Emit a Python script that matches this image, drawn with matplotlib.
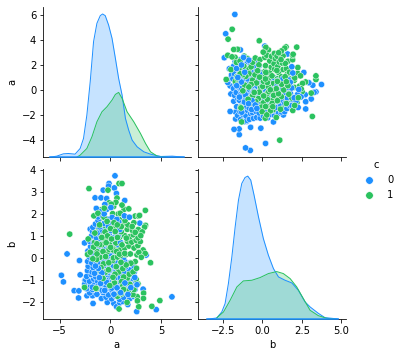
import numpy as np
import matplotlib
matplotlib.use('Agg')
import matplotlib.pyplot as plt
from matplotlib.lines import Line2D

# (a, b)
points_0 = [
    (-4.82, -0.77), (-4.62, -1.07), (-4.26, 0.2), (-3.56, -1.47), (-3.1, -1.48), (-3.13, -1.8), (-3.04, -0.1),
    (-2.97, -0.75), (-2.5, -1.0), (-2.3, -1.7), (-1.75, -1.7), (-1.7, -2.05), (-2.54, 0.7), (0.46, 3.75),
    (-0.13, 3.4), (-0.17, 3.28), (0.4, 3.2), (0.6, 2.95), (-0.7, 3.1), (-1.5, 2.75), (-0.92, 2.75), (-0.36, 2.72),
    (1.42, 2.63), (6.07, -1.75), (4.52, -2.33), (2.6, -2.42), (3.23, -1.4), (2.9, 1.6), (2.28, -0.38), (3.53, 0.15),
    (-0.3, -2.0), (0.35, -2.05), (0.62, -2.2), (0.94, -2.02), (1.23, -1.96), (1.72, -2.1), (-0.88, -1.82),
    (-0.42, -1.76), (0.13, -1.84), (0.52, -1.71), (0.91, -1.87), (1.33, -1.78), (1.94, -1.82), (2.31, -1.73),
    (-2.03, -1.57), (-1.32, -1.63), (-0.71, -1.55), (-0.18, -1.66), (0.24, -1.52), (0.73, -1.61), (1.14, -1.58),
    (1.63, -1.49), (2.22, -1.62), (-2.34, -1.38), (-1.74, -1.42), (-1.23, -1.33), (-0.81, -1.45), (-0.32, -1.36),
    (0.11, -1.41), (0.53, -1.31), (0.84, -1.44), (1.24, -1.37), (1.82, -1.33), (2.43, -1.42), (-2.52, -1.17),
    (-1.93, -1.24), (-1.52, -1.13), (-1.14, -1.22), (-0.73, -1.16), (-0.41, -1.27), (0.02, -1.11), (0.44, -1.21),
    (0.83, -1.13), (1.12, -1.24), (1.53, -1.16), (2.04, -1.21), (2.53, -1.08), (-2.41, -0.98), (-2.06, -1.04),
    (-1.63, -0.94), (-1.28, -1.02), (-0.92, -0.93), (-0.54, -1.06), (-0.16, -0.96), (0.27, -1.03), (0.61, -0.92),
    (0.95, -1.05), (1.34, -0.95), (1.76, -1.02), (2.27, -0.93), (-2.33, -0.82), (-1.88, -0.74), (-1.44, -0.84),
    (-1.07, -0.76), (-0.68, -0.87), (-0.29, -0.73), (0.08, -0.83), (0.49, -0.77), (0.81, -0.86), (1.22, -0.72),
    (1.58, -0.81), (2.11, -0.74), (-2.25, -0.56), (-1.79, -0.63), (-1.36, -0.52), (-0.96, -0.61), (-0.61, -0.53),
    (-0.23, -0.64), (0.15, -0.55), (0.54, -0.62), (0.92, -0.51), (1.41, -0.58), (1.87, -0.53), (2.35, -0.63),
    (-2.18, -0.36), (-1.69, -0.42), (-1.27, -0.33), (-0.85, -0.44), (-0.47, -0.31), (-0.06, -0.41), (0.33, -0.34),
    (0.72, -0.43), (1.13, -0.32), (1.51, -0.39), (-2.23, -0.14), (-1.82, -0.21), (-1.41, -0.12), (-1.02, -0.24),
    (-0.63, -0.16), (-0.26, -0.23), (0.17, -0.11), (0.57, -0.19), (0.99, -0.26), (1.42, -0.13), (1.96, -0.2),
    (-2.06, 0.06), (-1.56, 0.13), (-1.17, 0.03), (-0.77, 0.11), (-0.34, 0.02), (0.06, 0.14), (0.46, 0.05),
    (0.87, 0.12), (1.31, 0.03), (-2.21, 0.33), (-1.72, 0.24), (-1.25, 0.36), (-0.89, 0.27), (-0.45, 0.34),
    (-0.04, 0.23), (0.38, 0.32), (0.77, 0.25), (1.16, 0.35), (-1.94, 0.53), (-1.48, 0.46), (-1.06, 0.57),
    (-0.58, 0.44), (-0.17, 0.55), (0.27, 0.47), (0.69, 0.58), (1.21, 0.49), (-2.02, 0.77), (-1.62, 0.71),
    (-1.13, 0.79), (-0.71, 0.66), (-0.29, 0.76), (0.14, 0.68), (0.53, 0.81), (1.02, 0.72), (-1.84, 1.02),
    (-1.38, 0.94), (-0.94, 1.03), (-0.52, 0.91), (-0.11, 1.04), (0.34, 0.93), (0.78, 1.01), (-1.98, 1.33),
    (-1.74, 1.21), (-1.27, 1.16), (-0.81, 1.28), (-0.39, 1.14), (0.07, 1.26), (0.52, 1.17), (0.93, 1.31),
    (-1.72, 1.41), (-1.46, 1.56), (-1.05, 1.43), (-0.62, 1.58), (-0.19, 1.46), (0.24, 1.61), (0.83, 1.65),
    (-1.21, 1.72), (-1.23, 1.88), (-0.75, 1.92), (-0.28, 1.78), (0.18, 1.86), (0.64, 1.77), (1.38, 1.93),
    (1.88, 1.87), (-1.38, 2.27), (-0.86, 2.14), (-0.34, 2.23), (0.06, 2.31), (-0.54, 2.45), (-0.61, 2.02),
    (-1.76, -1.31), (-0.36, -1.09), (-0.95, -1.14), (0.15, -1.35), (-1.55, -0.68), (-0.83, -0.66), (0.42, -0.9),
    (-0.11, -0.55), (-1.18, -0.46), (0.66, -1.34), (1.44, -1.12), (1.02, -1.56), (0.36, -1.63), (-1.08, -0.88),
    (1.74, -1.64), (2.02, -1.33), (2.41, -0.87), (2.63, -1.2), (-0.55, -1.46), (-1.46, -0.35),
]
points_1 = [
    (-2.1, 3.17), (-4.0, 1.1), (-0.23, 3.1), (0.86, 3.4), (1.15, 3.4), (0.66, 2.74), (3.96, -0.2), (3.47, 1.5),
    (3.37, 1.42), (3.23, 0.38), (3.43, 0.22), (4.88, -1.92), (4.09, -2.18), (0.86, -2.3), (2.64, -1.74),
    (2.8, -2.2), (1.65, -2.0), (-2.24, 0.18), (-1.36, -1.38), (-2.54, -1.32), (2.67, -1.93), (3.28, -1.58),
    (3.26, -1.82), (1.07, -1.62), (1.36, -1.43), (2.23, -1.65), (2.73, -1.16), (2.54, -0.95), (1.66, -0.9),
    (1.32, -0.85), (0.39, -1.06), (0.82, -0.62), (1.23, -0.47), (1.87, -0.72), (2.24, -0.62), (2.58, -0.45),
    (2.45, -0.15), (2.03, -0.22), (1.56, -0.3), (0.22, -0.1), (-0.67, -0.25), (-1.12, -0.55), (-1.3, 0.3),
    (-1.02, 0.05), (0.31, 0.02), (0.72, 0.06), (1.04, 0.14), (1.53, 0.17), (1.97, 0.2), (2.63, 0.16),
    (2.81, 0.27), (3.05, 0.05), (0.34, 0.42), (0.93, 0.38), (1.41, 0.46), (1.84, 0.56), (2.34, 0.47),
    (2.72, 0.58), (-1.53, 0.74), (-0.82, 0.62), (-0.08, 0.62), (0.55, 0.7), (1.15, 0.61), (1.68, 0.78),
    (2.12, 0.74), (2.54, 0.82), (2.95, 0.76), (-2.18, 0.88), (-1.65, 0.51), (-0.52, 0.86), (0.22, 0.92),
    (0.91, 0.96), (1.42, 1.03), (1.91, 0.98), (2.26, 1.07), (2.73, 0.93), (2.85, 1.18), (-0.92, 1.22),
    (-0.13, 1.31), (0.55, 1.28), (1.07, 1.21), (1.66, 1.32), (2.17, 1.27), (2.75, 1.31), (3.14, 1.2),
    (-1.25, 1.43), (-0.47, 1.47), (0.42, 1.42), (1.27, 1.58), (1.74, 1.52), (2.32, 1.62), (-1.0, 1.82),
    (-0.04, 1.75), (0.89, 1.76), (1.45, 1.72), (2.44, 1.92), (2.78, 1.92), (2.88, 1.95), (-0.98, 2.2),
    (0.23, 2.03), (0.79, 2.02), (1.36, 2.23), (1.82, 2.25), (3.45, 2.18), (0.33, 2.36), (0.55, 2.55),
    (1.15, 2.42), (0.98, 2.05), (-0.12, 2.52), (0.11, 2.46), (2.15, 1.45), (3.0, 1.03), (2.45, 1.18),
    (1.58, 0.92), (-0.25, 0.32), (0.58, -0.38), (1.12, -1.05), (1.93, -1.18), (2.33, -1.42), (-1.35, -0.05),
    (-0.44, -0.62), (-0.15, -0.2), (1.75, -1.48), (0.7, -1.72), (1.24, -1.25),
    (-1.62, 1.93), (-0.62, 1.87), (-1.06, 1.52), (-0.52, 1.2), (0.02, 1.35), (0.48, 1.22), (-1.05, 0.62),
    (-1.32, 0.66), (-0.12, 0.41), (-0.41, 0.71), (0.29, 0.38), (-1.31, 0.2), (-0.92, -0.42), (0.62, 0.31),
    (0.9, 0.19), (-0.72, -0.91), (-1.42, -1.36), (0.41, -1.12), (0.92, -1.58), (1.31, -1.41), (-0.28, 1.02),
    (0.12, 0.88), (0.71, 0.95), (-1.52, 1.15), (-0.72, 0.31), (-0.18, -0.52), (0.46, -0.72), (1.05, -0.18),
    (1.42, 0.22), (-1.72, -0.02), (-0.46, 0.08), (0.03, 0.5), (-0.84, 0.95), (0.36, 1.62), (1.08, 1.44),
    (-0.32, 1.68), (-0.6, 2.28), (0.68, 1.52), (-1.22, 2.05), (0.26, -0.86), (-1.98, 0.28), (-0.05, -1.24),
]

a_grid_0 = [-5.94, -5.28, -4.62, -4.13, -3.47, -2.97, -2.64, -2.31, -1.98, -1.65, -1.32, -0.99, -0.76, -0.5, -0.17,
            0.17, 0.5, 0.82, 1.16, 1.49, 1.81, 2.15, 2.64, 3.3, 3.96, 4.95, 6.1, 7.26]
a_dens_0 = [0, 0.003, 0.01, 0.011, 0.009, 0.026, 0.056, 0.126, 0.226, 0.346, 0.401, 0.424, 0.429, 0.424, 0.396,
            0.356, 0.296, 0.236, 0.186, 0.116, 0.081, 0.051, 0.031, 0.016, 0.009, 0.002, 0.003, 0]
a_grid_1 = [-3.3, -2.97, -2.31, -1.81, -1.32, -0.82, -0.33, 0.17, 0.5, 0.82, 1.16, 1.65, 2.31, 2.97, 3.47, 3.96,
            4.62, 5.6]
a_dens_1 = [0, 0.006, 0.026, 0.061, 0.106, 0.136, 0.151, 0.171, 0.188, 0.194, 0.176, 0.136, 0.106, 0.071, 0.041,
            0.016, 0.003, 0]
b_grid_0 = [-3.53, -2.9, -2.58, -2.37, -2.16, -1.94, -1.73, -1.52, -1.31, -1.1, -0.93, -0.74, -0.53, -0.25, 0.06,
            0.38, 0.7, 1.02, 1.44, 1.87, 2.28, 2.71, 3.03, 3.55, 3.97, 4.82]
b_dens_0 = [0, 0.004, 0.022, 0.047, 0.107, 0.187, 0.277, 0.357, 0.407, 0.425, 0.429, 0.417, 0.372, 0.307, 0.242,
            0.192, 0.152, 0.127, 0.117, 0.109, 0.087, 0.052, 0.037, 0.018, 0.005, 0.001]
b_grid_1 = [-2.9, -2.47, -2.05, -1.62, -1.21, -0.67, -0.15, 0.38, 0.91, 1.33, 1.76, 2.18, 2.6, 3.03, 3.55, 4.08, 4.71]
b_dens_1 = [0.004, 0.022, 0.057, 0.097, 0.115, 0.117, 0.125, 0.137, 0.143, 0.137, 0.122, 0.097, 0.062, 0.027, 0.011,
            0.003, 0]

BLUE = '#1e90ff'
GREEN = '#2bc25f'

plt.rcParams['font.size'] = 10
fig, axes = plt.subplots(2, 2, sharex='col', sharey='row', figsize=(402 / 72, 357 / 72), dpi=72)
fig.subplots_adjust(left=43.3 / 402, right=345.7 / 402, top=1 - 7.3 / 357, bottom=1 - 319.3 / 357,
                    wspace=0.054, hspace=0.082)

for ax in axes.flat:
    ax.spines['top'].set_visible(False)
    ax.spines['right'].set_visible(False)

# most blue first, then the rest of the blue mixed in with the green
pts0 = np.array(points_0)
pts1 = np.array(points_1)
first = int(len(pts0) * 0.6)
merged = list(pts0[:first])
colours = [BLUE] * first
rest = pts0[first:]
step = len(pts1) / len(rest)
j = 0
for i, p in enumerate(rest):
    merged.append(p)
    colours.append(BLUE)
    while j < (i + 1) * step and j < len(pts1):
        merged.append(pts1[j])
        colours.append(GREEN)
        j += 1
merged = np.array(merged)

axes[1, 0].scatter(merged[:, 0], merged[:, 1], c=colours, s=40, edgecolor='white', linewidth=0.48)
axes[0, 1].scatter(merged[:, 1], merged[:, 0], c=colours, s=40, edgecolor='white', linewidth=0.48)


def kde(ax, grid_0, dens_0, grid_1, dens_1):
    tw = ax.twinx()
    tw.axis('off')
    tw.set_ylim(0, 0.449)
    tw.fill_between(grid_0, dens_0, color=BLUE, alpha=0.25, lw=0)
    tw.plot(grid_0, dens_0, color=BLUE, lw=1)
    tw.fill_between(grid_1, dens_1, color=GREEN, alpha=0.25, lw=0)
    tw.plot(grid_1, dens_1, color=GREEN, lw=1)
    tw.plot([grid_0[0], grid_0[-1]], [0, 0], color=BLUE, lw=1.5, clip_on=False)


kde(axes[0, 0], a_grid_0, a_dens_0, a_grid_1, a_dens_1)
kde(axes[1, 1], b_grid_0, b_dens_0, b_grid_1, b_dens_1)

axes[0, 0].set_xlim(-6.6, 7.9)
axes[0, 0].set_ylim(-5.36, 6.64)
axes[1, 1].set_xlim(-4.06, 5.29)
axes[1, 0].set_ylim(-2.77, 4.04)
axes[0, 0].set_xticks([-5, 0, 5])
axes[1, 1].set_xticks([-2.5, 0, 2.5, 5])
axes[0, 0].set_yticks([-4, -2, 0, 2, 4, 6])
axes[1, 0].set_yticks([-2, -1, 0, 1, 2, 3, 4])

axes[1, 0].set_xlabel('a')
axes[1, 1].set_xlabel('b')
axes[0, 0].set_ylabel('a')
axes[1, 0].set_ylabel('b')

handles = [Line2D([], [], marker='o', ls='', color=BLUE, markeredgecolor='white', markeredgewidth=0.48, markersize=7.5),
           Line2D([], [], marker='o', ls='', color=GREEN, markeredgecolor='white', markeredgewidth=0.48, markersize=7.5)]
fig.legend(handles, ['0', '1'], title='c', frameon=False, loc='center left',
           bbox_to_anchor=(350 / 402, 1 - 180 / 357), handletextpad=0.8)

fig.savefig('out.png', dpi=72)
